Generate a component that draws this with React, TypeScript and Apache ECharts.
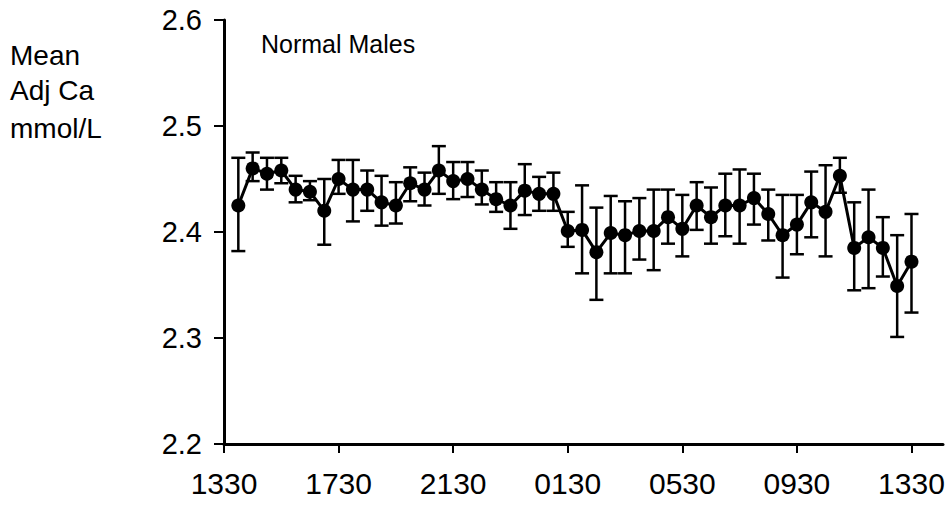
import React, { useEffect, useRef } from "react";
import * as echarts from "echarts";

// half-hour steps after 1330 (1 = 1400 ... 48 = 1330 next day)
const steps = Array.from({ length: 48 }, (_, i) => i + 1);
const tickPositions = [0, 8, 16, 24, 32, 40, 48];
const tickLabels = ["1330", "1730", "2130", "0130", "0530", "0930", "1330"];

const means = [
  2.425, 2.46, 2.455, 2.458, 2.44, 2.438, 2.42, 2.45, 2.44, 2.44, 2.428, 2.425,
  2.446, 2.44, 2.458, 2.448, 2.45, 2.44, 2.431, 2.425, 2.439, 2.436, 2.436, 2.401,
  2.402, 2.381, 2.399, 2.397, 2.401, 2.401, 2.414, 2.403, 2.425, 2.414, 2.425, 2.425,
  2.432, 2.417, 2.397, 2.407, 2.428, 2.419, 2.453, 2.385, 2.395, 2.385, 2.349, 2.372,
];
const upper = [
  2.47, 2.475, 2.47, 2.47, 2.453, 2.448, 2.45, 2.468, 2.468, 2.458, 2.453, 2.447,
  2.461, 2.456, 2.481, 2.466, 2.466, 2.458, 2.447, 2.447, 2.464, 2.452, 2.456, 2.419,
  2.444, 2.423, 2.434, 2.429, 2.432, 2.44, 2.44, 2.435, 2.447, 2.442, 2.455, 2.459,
  2.455, 2.44, 2.435, 2.435, 2.457, 2.463, 2.47, 2.428, 2.44, 2.414, 2.397, 2.417,
];
const lower = [
  2.382, 2.448, 2.44, 2.446, 2.428, 2.43, 2.388, 2.436, 2.41, 2.42, 2.406, 2.408,
  2.429, 2.425, 2.436, 2.431, 2.433, 2.426, 2.419, 2.403, 2.416, 2.42, 2.42, 2.386,
  2.361, 2.336, 2.361, 2.361, 2.374, 2.364, 2.389, 2.377, 2.402, 2.389, 2.396, 2.389,
  2.407, 2.392, 2.357, 2.379, 2.395, 2.377, 2.437, 2.345, 2.347, 2.358, 2.301, 2.324,
];

const FONT = "Liberation Sans";

export default function App() {
  const ref = useRef<HTMLDivElement>(null);
  useEffect(() => {
    if (!ref.current) return;
    const chart = echarts.init(ref.current, null, { renderer: "svg" });
    const lineData = steps.map((s, i) => [s, means[i]]);
    const errData = steps.map((s, i) => [s, lower[i], upper[i]]);
    chart.setOption({
      animation: false,
      backgroundColor: "#ffffff",
      grid: { left: 224, right: 7, top: 20, bottom: 61 },
      xAxis: {
        type: "value",
        min: 0,
        max: 50.2,
        splitLine: { show: false },
        axisLine: { onZero: false, lineStyle: { color: "#000", width: 3 } },
        axisTick: {
          show: true,
          customValues: tickPositions,
          length: 9,
          lineStyle: { color: "#000", width: 2 },
        },
        axisLabel: {
          customValues: tickPositions,
          color: "#000",
          fontFamily: FONT,
          fontSize: 30,
          margin: 24,
          formatter: (v: number) => {
            const k = tickPositions.indexOf(Math.round(v));
            return k >= 0 ? tickLabels[k] : "";
          },
        },
      },
      yAxis: {
        type: "value",
        min: 2.2,
        max: 2.6,
        interval: 0.1,
        splitLine: { show: false },
        axisLine: { show: true, lineStyle: { color: "#000", width: 3 } },
        axisTick: { show: true, length: 10, lineStyle: { color: "#000", width: 2 } },
        axisLabel: {
          color: "#000",
          fontFamily: FONT,
          fontSize: 29,
          margin: 22,
          formatter: (v: number) => v.toFixed(1),
        },
      },
      graphic: [
        { type: "text", left: 10, top: 41, style: { text: "Mean", font: `28px "${FONT}"`, fill: "#000" } },
        { type: "text", left: 10, top: 76, style: { text: "Adj Ca", font: `28px "${FONT}"`, fill: "#000" } },
        { type: "text", left: 10, top: 114, style: { text: "mmol/L", font: `28px "${FONT}"`, fill: "#000" } },
        { type: "text", left: 261, top: 31, style: { text: "Normal Males", font: `25px "${FONT}"`, fill: "#000" } },
      ],
      series: [
        {
          type: "custom",
          data: errData,
          z: 2,
          renderItem: (params: any, api: any) => {
            const x = api.value(0);
            const lo = api.coord([x, api.value(1)]);
            const hi = api.coord([x, api.value(2)]);
            const half = 7;
            const style = { stroke: "#000", lineWidth: 2.5 };
            return {
              type: "group",
              children: [
                { type: "line", shape: { x1: lo[0], y1: lo[1], x2: hi[0], y2: hi[1] }, style },
                { type: "line", shape: { x1: hi[0] - half, y1: hi[1], x2: hi[0] + half, y2: hi[1] }, style },
                { type: "line", shape: { x1: lo[0] - half, y1: lo[1], x2: lo[0] + half, y2: lo[1] }, style },
              ],
            };
          },
        },
        {
          type: "line",
          data: lineData,
          z: 3,
          symbol: "circle",
          symbolSize: 14,
          lineStyle: { color: "#000", width: 3 },
          itemStyle: { color: "#000" },
        },
      ],
    });
    return () => chart.dispose();
  }, []);
  return <div ref={ref} style={{ width: 950, height: 505, position: "absolute", left: 0, top: 0 }} />;
}
